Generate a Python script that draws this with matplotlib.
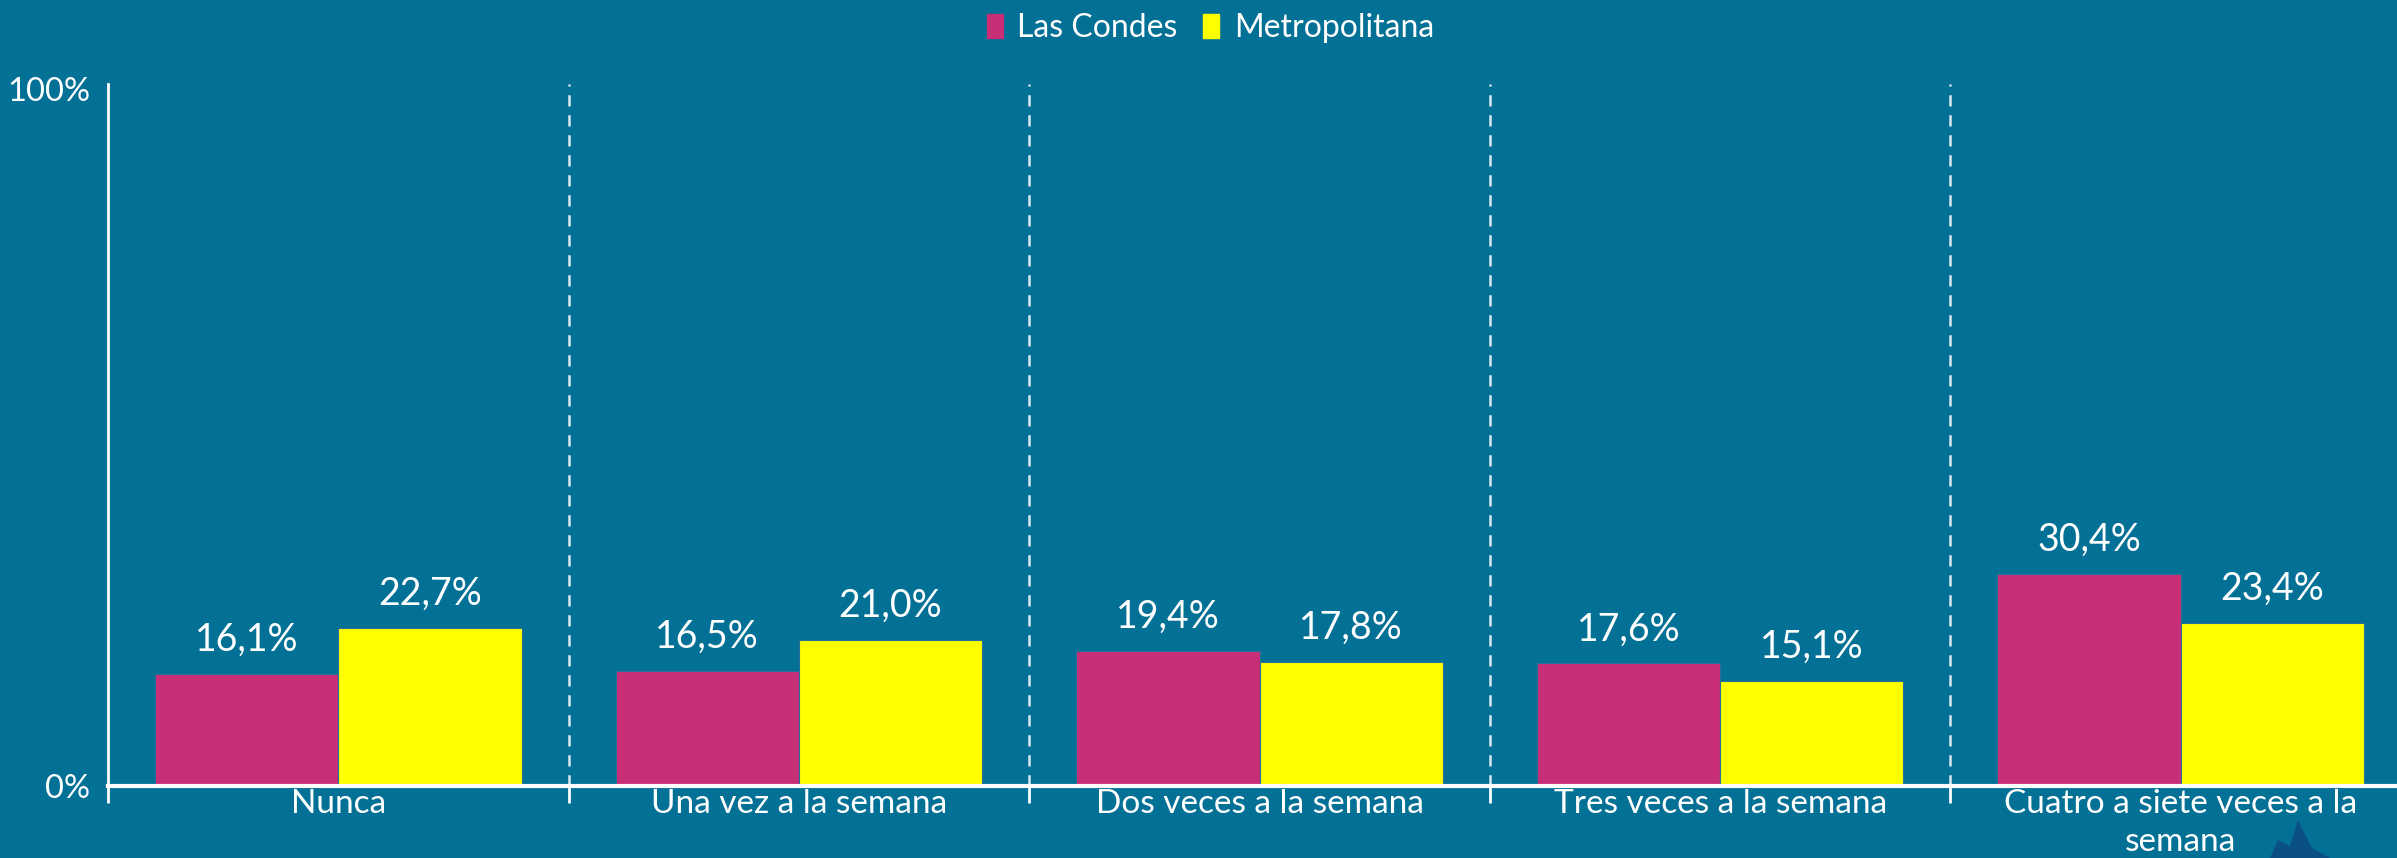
import matplotlib
matplotlib.use("Agg")
import matplotlib.pyplot as plt
import numpy as np
from matplotlib.patches import Patch, Polygon

categories = ["Nunca", "Una vez a la semana", "Dos veces a la semana",
              "Tres veces a la semana", "Cuatro a siete veces a la\nsemana"]
las_condes = [16.1, 16.5, 19.4, 17.6, 30.4]
metropolitana = [22.7, 21.0, 17.8, 15.1, 23.4]
series_names = ["Las Condes", "Metropolitana"]

BG = "#037096"
PINK = "#C82E78"
YELLOW = "#FFFF00"
FONT = ["Lato", "DejaVu Sans"]

plt.rcParams['font.family'] = FONT

fig = plt.figure(figsize=(23.97, 8.58), dpi=100, facecolor=BG)
W, H = 2397, 858
left, right, bottom, top = 108, 2411, 786, 84
ax = fig.add_axes([left / W, 1 - bottom / H, (right - left) / W, (bottom - top) / H])
ax.set_facecolor(BG)

x = np.arange(len(categories))
bw = 0.398
b1 = ax.bar(x - bw / 2, np.array(las_condes) / 100, bw, color=PINK, edgecolor="#2a6f95", linewidth=0.8)
b2 = ax.bar(x + bw / 2, np.array(metropolitana) / 100, bw, color=YELLOW, edgecolor="#2a6f95", linewidth=0.8)

for bars, vals in ((b1, las_condes), (b2, metropolitana)):
    for rect, v in zip(bars, vals):
        ax.annotate(f"{v:.1f}".replace(".", ",") + "%",
                    (rect.get_x() + rect.get_width() / 2, rect.get_height()),
                    xytext=(0, 16.5), textcoords="offset points",
                    ha="center", va="baseline", color="white", fontsize=27)

ax.set_xlim(-0.5, len(categories) - 0.5)
ax.set_ylim(0, 1.007)

# separators
for b in np.arange(0.5, len(categories) - 0.5, 1):
    ax.axvline(b, color="white", alpha=0.85, linewidth=1.8, linestyle=(0, (4.5, 3.5)))

ax.set_yticks([0, 1.0])
ax.set_yticklabels(["0%", "100%"])
ax.tick_params(axis="y", length=0, pad=13, labelsize=23.5, labelcolor="white")

ax.set_xticks(x)
ax.set_xticklabels(categories)
ax.tick_params(axis="x", which="major", length=0, pad=2, labelsize=24, labelcolor="white")
ax.set_xticks(np.arange(-0.5, len(categories), 1), minor=True)
ax.tick_params(axis="x", which="minor", length=12, width=2, color="white", direction="out")
for lbl in ax.get_xticklabels():
    lbl.set_linespacing(1.35)

for s in ("top", "right"):
    ax.spines[s].set_visible(False)
ax.spines["left"].set_color("white")
ax.spines["left"].set_linewidth(2)
ax.spines["bottom"].set_color("white")
ax.spines["bottom"].set_linewidth(3)

handles = [Patch(facecolor=PINK, edgecolor=PINK), Patch(facecolor=YELLOW, edgecolor=YELLOW)]
leg = fig.legend(handles, series_names, loc="center", bbox_to_anchor=(0.505, 0.967),
                 ncol=2, frameon=False, fontsize=23, labelcolor="white",
                 handlelength=0.5, handleheight=0.8, handletextpad=0.45, columnspacing=0.8)

# partial logo watermark at bottom right
pts = np.array([(2270, 858), (2278, 840), (2290, 846), (2298, 820), (2312, 848), (2330, 858)])
poly = Polygon([(px / W, 1 - py / H) for px, py in pts], closed=True,
               transform=fig.transFigure, facecolor="#0a4f86", edgecolor="none")
fig.patches.append(poly)

fig.savefig("out.png", dpi=100, facecolor=BG)
